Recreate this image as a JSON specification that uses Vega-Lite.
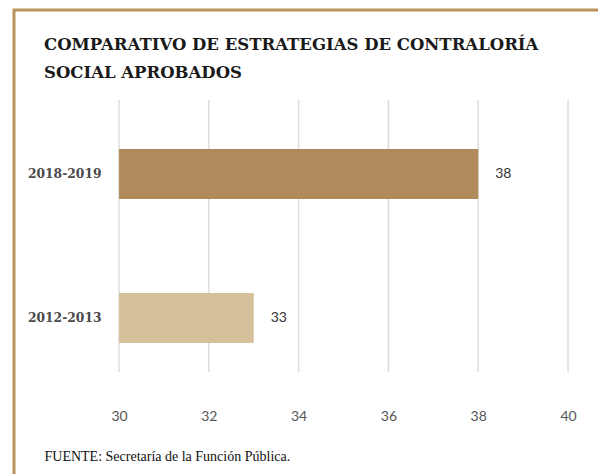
{
  "$schema": "https://vega.github.io/schema/vega-lite/v6.json",
  "autosize": {"type": "none"},
  "padding": {"left": 14, "top": 10, "right": 0, "bottom": 0},
  "width": 600,
  "height": 472,
  "background": "white",
  "config": {
    "view": {"stroke": "#b8935e", "strokeWidth": 3, "fill": "white"}
  },
  "title": {
    "text": ["COMPARATIVO DE ESTRATEGIAS DE CONTRALORÍA", "SOCIAL APROBADOS"],
    "anchor": "start",
    "frame": "group",
    "baseline": "top",
    "offset": -71,
    "dx": 30,
    "lineHeight": 28,
    "font": "DejaVu Serif",
    "fontSize": 16.5,
    "fontWeight": "bold",
    "color": "#1a1a1a"
  },
  "datasets": {
    "main": [
      {"periodo": "2018-2019", "valor": 38},
      {"periodo": "2012-2013", "valor": 33}
    ],
    "grid": [
      {"v": 30}, {"v": 32}, {"v": 34}, {"v": 36}, {"v": 38}, {"v": 40}
    ]
  },
  "layer": [
    {
      "data": {"name": "grid"},
      "mark": {"type": "rule", "color": "#dddddd", "strokeWidth": 1.5},
      "encoding": {
        "x": {"field": "v", "type": "quantitative"},
        "y": {"datum": "2018-2019", "type": "nominal", "bandPosition": -0.98},
        "y2": {"datum": "2012-2013", "bandPosition": 1.58}
      }
    },
    {
      "data": {"name": "main"},
      "mark": {"type": "bar"},
      "encoding": {
        "y": {
          "field": "periodo", "type": "nominal",
          "scale": {"domain": ["2018-2019", "2012-2013"], "paddingInner": 0.653, "paddingOuter": 0.965},
          "axis": {
            "orient": "left", "offset": -90, "title": null, "domain": false, "ticks": false, "grid": false,
            "labelPadding": 3, "labelFont": "DejaVu Serif", "labelFontWeight": "bold", "labelFontSize": 12.3, "labelColor": "#4a4a4a"
          }
        },
        "x": {
          "field": "valor", "type": "quantitative",
          "scale": {"domain": [27.661, 41.024], "nice": false, "zero": false},
          "axis": {
            "orient": "bottom", "offset": -78, "values": [30, 32, 34, 36, 38, 40],
            "domain": false, "ticks": false, "grid": false,
            "labelPadding": 5, "labelFont": "Lato", "labelFontSize": 14, "labelColor": "#555555", "labelBaseline": "top",
            "title": "FUENTE: Secretaría de la Función Pública.",
            "titleAnchor": null, "titleAlign": "left", "titleBaseline": "middle", "titleAngle": 0,
            "titleX": 30, "titleY": 52,
            "titleFont": "Liberation Serif", "titleFontSize": 14, "titleFontWeight": "normal", "titleColor": "#111111"
          }
        },
        "x2": {"datum": 30},
        "color": {
          "field": "periodo", "type": "nominal",
          "scale": {"domain": ["2018-2019", "2012-2013"], "range": ["#b08a5a", "#d5c09b"]},
          "legend": null
        }
      }
    },
    {
      "data": {"name": "main"},
      "mark": {"type": "text", "align": "left", "baseline": "middle", "dx": 17, "font": "Lato", "fontSize": 14, "color": "#333333"},
      "encoding": {
        "y": {"field": "periodo", "type": "nominal"},
        "x": {"field": "valor", "type": "quantitative"},
        "text": {"field": "valor", "type": "quantitative"}
      }
    }
  ]
}
